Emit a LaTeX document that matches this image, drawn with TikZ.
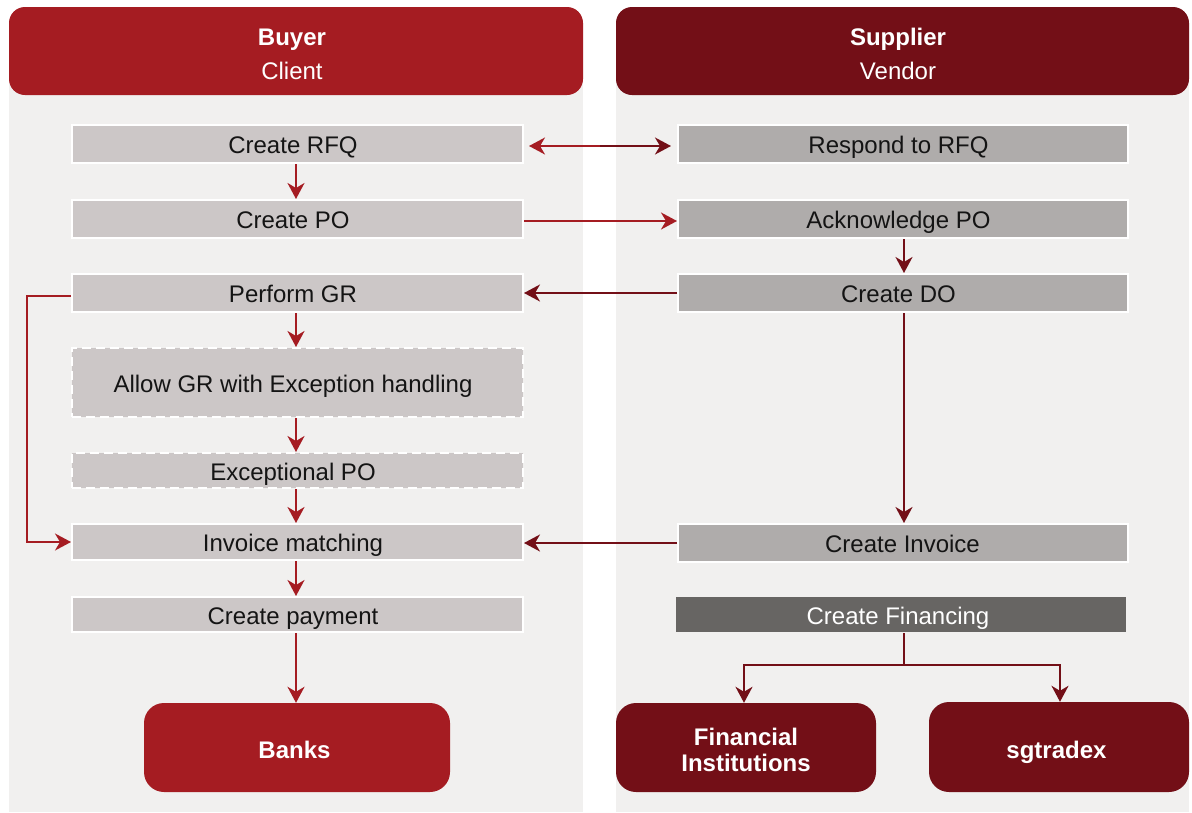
\documentclass[tikz,border=0pt]{standalone}
\usepackage{fontspec}
\setmainfont{Liberation Sans}
\usetikzlibrary{arrows.meta}
\definecolor{buyerred}{HTML}{A51C22}
\definecolor{supplierred}{HTML}{730F17}
\definecolor{lanebg}{HTML}{F1F0EF}
\definecolor{buyerbox}{HTML}{CCC7C7}
\definecolor{supplierbox}{HTML}{AFACAB}
\definecolor{finbox}{HTML}{676563}
\definecolor{boxtext}{HTML}{141414}
% strut that lowers the first line of a multi-line label
\newcommand{\lowerline}[1]{\rule{0pt}{#1}}
\tikzset{
  lane/.style={fill=lanebg, draw=none},
  textshift/.style={execute at begin node={\hspace*{#1}}},
  header/.style={draw=none, rounded corners=16pt, text=white, align=center,
    font=\fontsize{24}{34}\selectfont},
  endpoint/.style={draw=none, rounded corners=20pt, text=white, align=center,
    font=\fontsize{24}{26}\selectfont\bfseries},
  stepbox/.style={draw=white, line width=2pt, text=boxtext, inner sep=0pt,
    text height=19pt, text depth=0pt, font=\fontsize{24}{28}\selectfont},
  buyerstep/.style={stepbox, fill=buyerbox, minimum width=451pt, textshift=-9pt},
  supplierstep/.style={stepbox, fill=supplierbox, minimum width=450pt, textshift=-9pt},
  optional/.style={buyerstep, dash pattern=on 9pt off 5pt},
  flow/.style={line width=2pt, -{Stealth[length=16pt,width=17pt,inset=5pt]}},
  redflow/.style={flow, draw=buyerred},
  darkflow/.style={flow, draw=supplierred},
}
\begin{document}
\begin{tikzpicture}[x=1pt, y=-1pt]
\useasboundingbox[fill=white] (0,0) rectangle (1192,812);

% swim lanes
\fill[lane] (9,20) rectangle (583,812);
\fill[lane] (616,20) rectangle (1189,812);
\node[header, fill=buyerred, minimum width=574pt, minimum height=88pt] (buyer) at (296,51)
  {\hspace*{-8pt}\lowerline{23.5pt}\textbf{Buyer}\\\hspace*{-8pt}Client};
\node[header, fill=supplierred, minimum width=573pt, minimum height=88pt] (supplier) at (902.5,51)
  {\hspace*{-9pt}\lowerline{23.5pt}\textbf{Supplier}\\\hspace*{-9pt}Vendor};

% buyer steps
\node[buyerstep, minimum height=38pt] (rfq)   at (297.5,144)   {Create RFQ};
\node[buyerstep, minimum height=38pt] (po)    at (297.5,219)   {Create PO};
\node[buyerstep, minimum height=38pt] (gr)    at (297.5,293)   {Perform GR};
\node[optional,  minimum height=69pt] (allow) at (297.5,382.5) {Allow GR with Exception handling};
\node[optional,  minimum height=35pt] (expo)  at (297.5,470.5) {Exceptional PO};
\node[buyerstep, minimum height=36pt] (match) at (297.5,542)   {Invoice matching};
\node[buyerstep, minimum height=35pt] (pay)   at (297.5,614.5) {Create payment};

% supplier steps
\node[supplierstep, minimum height=38pt] (resp) at (903,144) {Respond to RFQ};
\node[supplierstep, minimum height=38pt] (ack)  at (903,219) {Acknowledge PO};
\node[supplierstep, minimum height=38pt] (do)   at (903,293) {Create DO};
\node[supplierstep, minimum height=38pt, textshift=8pt] (inv) at (903,543) {Create Invoice};
\node[stepbox, draw=none, fill=finbox, text=white, minimum width=450pt, minimum height=35pt,
  textshift=-6pt] (fin) at (901,614.5) {Create Financing};

% external parties
\node[endpoint, fill=buyerred, minimum width=306pt, minimum height=89pt,
  text height=22pt, text depth=0pt, textshift=-5pt] (banks) at (297,747.5) {Banks};
\node[endpoint, fill=supplierred, minimum width=260pt, minimum height=89pt] (fi) at (746,747.5)
  {\lowerline{23pt}Financial\\Institutions};
\node[endpoint, fill=supplierred, minimum width=260pt, minimum height=90pt,
  text height=22pt, text depth=0pt, textshift=-5pt] (sgx) at (1059,747) {sgtradex};

% RFQ exchange
\coordinate (rfqmid) at (600,146);
\draw[redflow, shorten >=5pt] (rfqmid) -- (rfq.east |- rfqmid);
\draw[darkflow, shorten >=6pt] (rfqmid) -- (resp.west |- rfqmid);

% buyer flow
\draw[redflow] (rfq.south -| 296,0) -- (po.north -| 296,0);
\draw[redflow] (gr.south -| 296,0) -- (allow.north -| 296,0);
\draw[redflow] (allow.south -| 296,0) -- (expo.north -| 296,0);
\draw[redflow] (expo.south -| 296,0) -- (match.north -| 296,0);
\draw[redflow] (match.south -| 296,0) -- (pay.north -| 296,0);
\draw[redflow] (pay.south -| 296,0) -- (banks.north -| 296,0);
\coordinate (loop) at (27,0);
\draw[redflow, line width=1.6pt] ([yshift=-3pt]gr.west) -| (loop |- match.west) -- (match.west);

% cross-lane messages
\draw[redflow] (po.east |- 0,221) -- (ack.west |- 0,221);
\draw[darkflow] (do.west) -- (gr.east);
\draw[darkflow] (inv.west) -- (match.east |- inv.west);

% supplier flow
\draw[darkflow] (ack.south -| 904,0) -- (do.north -| 904,0);
\draw[darkflow] (do.south -| 904,0) -- (inv.north -| 904,0);

% financing split
\coordinate (split) at (904,665);
\draw[supplierred, line width=2pt] (fin.south -| split) -- (split);
\draw[darkflow] (split) -| (fi.north -| 744,0);
\draw[darkflow] (split) -| (sgx.north -| 1060,0);
\end{tikzpicture}
\end{document}
